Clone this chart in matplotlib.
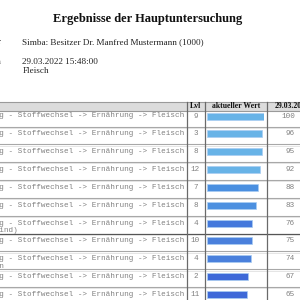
import matplotlib
matplotlib.use("Agg")
import matplotlib.pyplot as plt

# ---- data ----
title = "Ergebnisse der Hauptuntersuchung"
info_lines = ["Simba: Besitzer Dr. Manfred Mustermann (1000)", "29.03.2022 15:48:00\nFleisch"]
info_labels = ["Tier", "Datum"]
headers = ["Lvl", "aktueller Wert", "29.03.2022"]
paths = [
    "Zubereitung - Stoffwechsel -> Ernährung -> Fleisch",
    "Zubereitung - Stoffwechsel -> Ernährung -> Fleisch",
    "Zubereitung - Stoffwechsel -> Ernährung -> Fleisch",
    "Zubereitung - Stoffwechsel -> Ernährung -> Fleisch",
    "Zubereitung - Stoffwechsel -> Ernährung -> Fleisch",
    "Zubereitung - Stoffwechsel -> Ernährung -> Fleisch",
    "Zubereitung - Stoffwechsel -> Ernährung -> Fleisch\nFleisch (Rind)",
    "Zubereitung - Stoffwechsel -> Ernährung -> Fleisch",
    "Zubereitung - Stoffwechsel -> Ernährung -> Fleisch\nLamm & Huhn",
    "Zubereitung - Stoffwechsel -> Ernährung -> Fleisch",
    "Zubereitung - Stoffwechsel -> Ernährung -> Fleisch",
]
levels = [9, 3, 8, 12, 7, 8, 4, 10, 4, 2, 11]
values = [100, 96, 95, 92, 88, 83, 76, 75, 74, 67, 65]
bar_colors = ["#68b3e7", "#68b3e7", "#68b3e7", "#68b3e7", "#4a8fe0", "#4c90e0",
              "#4479dc", "#4a80dc", "#4a80dc", "#3e69d8", "#3e69d8"]

# ---- layout (pixels) ----
W = H = 300
ROW0 = 116.0
PITCH = 17.85
BAR_X0, BAR_X1 = 207.0, 264.3
BAR_BASE = -14
serif = "Liberation Serif"
mono = "Liberation Mono"
gray_txt = "#808080"

fig = plt.figure(figsize=(3, 3), dpi=100)
ax = fig.add_axes([0, 0, 1, 1])
ax.set_xlim(0, W)
ax.set_ylim(H, 0)
ax.axis("off")

ax.text(147.5, 19, title, ha="center", va="center", family=serif,
        fontweight="bold", fontsize=9.0, color="#111111")
ax.text(22.5, 42, info_lines[0], ha="left", va="center", family=serif, fontsize=6.6, color="#222222")
ax.text(22.5, 57.8, info_lines[1], ha="left", va="top", family=serif, fontsize=6.6,
        color="#222222", linespacing=1.12)
ax.text(1.5, 42, info_labels[0], ha="right", va="center", family=serif, fontsize=6.6, color="#222222")
ax.text(1.5, 62, info_labels[1], ha="right", va="center", family=serif, fontsize=6.6, color="#222222")

# header band
ax.axhspan(101.5, 110.5, color="#dcdcdc", lw=0, zorder=0)
ax.axhline(101.5, color="#9a9a9a", lw=0.8)
ax.axhline(110.5, color="#9a9a9a", lw=0.8)
ax.text(195.5, 106, headers[0], ha="center", va="center", family=serif,
        fontweight="bold", fontsize=5.6, color="#111111")
ax.text(235.7, 106, headers[1], ha="center", va="center", family=serif,
        fontweight="bold", fontsize=5.6, color="#111111")
ax.text(275, 106, headers[2], ha="left", va="center", family=serif,
        fontweight="bold", fontsize=5.6, color="#111111")

n = len(values)
row_y = [ROW0 + i * PITCH for i in range(n)]

for i, (p, lv, v) in enumerate(zip(paths, levels, values)):
    y = row_y[i]
    ax.text(-46.9, y - 3.6, p, ha="left", va="top", family=mono, fontsize=5.5,
            color=gray_txt, linespacing=1.12)
    ax.text(195.5, y, str(lv), ha="center", va="center", family=mono, fontsize=5.5, color=gray_txt)
    ax.text(295, y, str(v), ha="right", va="center", family=mono, fontsize=5.5, color=gray_txt)
    if i < n - 1:
        sep = y + 10.5
        dark = (i == 6)
        ax.axhline(sep, color="#555555" if dark else "#a8a8a8", lw=0.9 if dark else 0.8)
        ax.axhline(sep + 1.2, color="#e0e0e0", lw=0.6)

for xv in [186.5, 205.0, 266.5]:
    ax.plot([xv, xv], [101.5, H], color="#6a6a6a", lw=0.9)

# bars
bax = fig.add_axes([BAR_X0 / W, 0, (BAR_X1 - BAR_X0) / W, 1])
bax.set_xlim(BAR_BASE, max(values))
bax.set_ylim(H, 0)
bax.axis("off")
bax.barh(row_y, [v - BAR_BASE for v in values], left=BAR_BASE, height=7,
         color=bar_colors, edgecolor="#a9cdf2", linewidth=0.5)

fig.savefig("out.png", dpi=100)
